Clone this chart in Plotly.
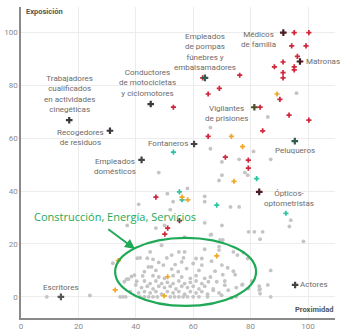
import plotly.graph_objects as go

# Occupations: proximity (x) vs exposure (y)
named_labels = ["Médicos<br>de familia", "Matronas",
                "Empleados<br>de pompas<br>fúnebres y<br>embalsamadores",
                "Conductores<br>de motocicletas<br>y ciclomotores",
                "Trabajadores<br>cualificados<br>en actividades<br>cinegéticas",
                "Recogedores<br>de residuos", "Empleados<br>domésticos",
                "Fontaneros", "Vigilantes<br>de prisiones", "Peluqueros",
                "Ópticos-<br>optometristas", "Actores", "Escritores"]
named_x = [91.4, 97.2, 64.1, 45.2, 16.8, 31.0, 42.0, 60.3, 81.3, 95.4, 83.0, 95.5, 13.9]
named_y = [99.9, 89.0, 82.8, 72.9, 66.8, 62.8, 51.8, 57.8, 71.7, 58.9, 39.7, 4.5, 0.0]
named_colors = ["#4a1c24", "#4a1c24", "#2f5d50", "#3a3a3a", "#3a3a3a", "#3a3a3a", "#444444",
                "#444444", "#4f4f2a", "#2f5d50", "#4a1c24", "#444444", "#555555"]

red_x = [95.2, 100.3, 94.3, 99.3, 96.3, 91.3, 88.3, 95.2, 95.2, 91.3, 91.3, 76.2, 63.3, 69.1,
         65.2, 53.1, 90.2, 83.3, 93.4, 100.3, 84.2, 65.2, 71.2, 79.2, 79.2, 47.0, 51.1, 50.1]
red_y = [99.9, 99.9, 94.9, 94.9, 90.9, 88.8, 87.0, 87.0, 85.8, 84.8, 82.8, 83.8, 82.8, 78.8,
         76.7, 71.7, 74.7, 71.7, 68.7, 66.8, 62.8, 60.7, 52.8, 51.7, 48.7, 37.7, 26.0, 23.7]
dark_red_x = [55.2]
dark_red_y = [28.8]

orange_x = [89.2, 73.3, 77.2, 74.2, 56.1, 58.1, 68.2, 33.9, 32.8, 51.1, 49.9]
orange_y = [76.7, 60.7, 56.8, 43.7, 37.7, 36.7, 15.5, 13.7, 2.6, 7.6, 0.4]

teal_x = [53.1, 82.1, 55.2, 56.1, 68.2, 92.3]
teal_y = [54.7, 44.7, 39.7, 36.7, 34.7, 31.6]

gray_pts = [
    (96, 77), (86, 68), (66, 64), (66, 56), (81, 55), (70, 51), (76, 52), (87, 52), (78, 47),
    (79, 46), (69, 44), (70, 46), (48, 47), (58, 41), (51, 39), (53, 36), (64, 38), (64, 36),
    (73, 34), (76, 34), (52, 33), (64, 28), (70, 27), (50, 27), (94, 29), (93.5, 26.6),
    (98.4, 21), (79.3, 24.6), (81.3, 24.6), (84.2, 24.6), (83.3, 21.8), (66.3, 23.6), (41, 35),
    (37, 27), (47, 26), (57, 22.6), (66, 23.4), (69.3, 21.5), (70.3, 21.5),
    (9, 0), (24, 0.5), (32, 12.7), (34.5, 0), (35.5, 0), (36.5, 0),
    (87, 10), (86, 4.5), (87, 0), (83, 4), (83, 2.6), (77, 4.5),
    (49, 19.5), (64, 18), (69, 19), (45, 17), (55, 17), (57, 17), (69, 17.7), (74, 17),
    (77.5, 16.7), (75.4, 15.8), (52.5, 15.8), (41.5, 14.7), (44, 14.6), (40.5, 14.6), (50.8, 14.7),
    (56.6, 14.7), (61, 14.5), (63, 14.5), (79, 14.5), (46, 14.2),
    (48, 13), (56, 13.2), (66.4, 13.5), (60, 12.6), (53.7, 12.2), (49.6, 12), (63, 12),
    (44.4, 11.3), (45.5, 11.3), (70, 12), (72, 11),
    (52.5, 10.5), (54.8, 9.5), (57.7, 10.7), (67.6, 9.7), (74, 9.7), (62, 10), (47, 10), (43, 9.5),
    (42.4, 7.9), (39.5, 8.2), (38.5, 7.7), (70.3, 8.4), (74.6, 8.4), (64, 7), (59, 7), (46, 8),
    (48, 7.5), (50, 7), (53, 8), (56, 7.5), (61, 8), (66, 7.5),
    (36, 5.7), (37.4, 6.7), (36.8, 6.7), (40.3, 5.9), (65.3, 5.7), (68.2, 5.7), (80.4, 5.9),
    (43, 6), (45, 5), (47, 6), (49, 5), (51, 5.5), (53, 5), (55, 6), (57, 5), (59, 5.5), (61, 6),
    (63, 5), (71, 6),
    (40, 4.5), (42, 3.5), (44, 4), (46, 3), (48, 4), (50, 3.5), (52, 4), (54, 3), (56, 4),
    (58, 3.5), (60, 4), (62, 3), (64, 4), (71, 4.4), (77.2, 4.7), (79.2, 3.1), (83.3, 2.9),
    (75, 3.5), (67, 3),
    (41, 1.5), (43, 2), (45, 1.5), (47, 2), (49, 1), (51, 2), (53, 1.5), (55, 2), (57, 1),
    (59, 2), (61, 1.5), (63, 2), (65, 1), (67, 2.5), (72.2, 2.5), (69, 1.5), (83.3, 1.2), (38, 2),
    (41.5, 0), (43, 0), (44.5, 0), (46, 0), (47.5, 0), (52, 0), (53.5, 0), (55, 0), (56.5, 0),
    (58, 0), (60, 0), (62, 0), (69.9, 0.6), (73.4, -0.4), (75, 0), (65, 0),
]
gray_x = [p[0] for p in gray_pts]
gray_y = [p[1] for p in gray_pts]

x_ticks = [0, 20, 40, 60, 80, 100]
y_ticks = [0, 20, 40, 60, 80, 100]

GRAY_TXT = "#6b6b6b"
GREEN = "#1fa956"

fig = go.Figure()


def dots(xs, ys, color, size, symbol="circle"):
    fig.add_trace(go.Scatter(x=xs, y=ys, mode="markers", hoverinfo="skip",
                             marker=dict(color=color, size=size, symbol=symbol,
                                         line=dict(width=0))))


dots(gray_x, gray_y, "#c4c4c4", 3.8)
dots(teal_x, teal_y, "#2ec4a2", 4.3, "cross")
dots(orange_x, orange_y, "#f2a62a", 4.3, "cross")
dots(red_x, red_y, "#d1263b", 4.3, "cross")
dots(dark_red_x, dark_red_y, "#8a2430", 4.3, "cross")
dots(named_x, named_y, named_colors, 5.5, "cross")

# label placement for each named occupation: (xanchor, yanchor, xshift, yshift)
label_place = {
    "Médicos<br>de familia": ("right", "top", -5, 5),
    "Matronas": ("left", "middle", 4, 0),
    "Empleados<br>de pompas<br>fúnebres y<br>embalsamadores": ("center", "bottom", 0, 4),
    "Conductores<br>de motocicletas<br>y ciclomotores": ("center", "bottom", -3, 4),
    "Trabajadores<br>cualificados<br>en actividades<br>cinegéticas": ("center", "bottom", 0, 4),
    "Recogedores<br>de residuos": ("right", "top", -4, 5),
    "Empleados<br>domésticos": ("right", "top", -4, 5),
    "Fontaneros": ("right", "middle", -4, 0),
    "Vigilantes<br>de prisiones": ("right", "top", -4, 5),
    "Peluqueros": ("center", "top", 0, -3),
    "Ópticos-<br>optometristas": ("left", "top", 3, 5),
    "Actores": ("left", "middle", 3, 0),
    "Escritores": ("center", "bottom", 0, 3),
}
for name, x, y in zip(named_labels, named_x, named_y):
    xa, ya, xs, ys = label_place[name]
    fig.add_annotation(x=x, y=y, text=name, showarrow=False, xanchor=xa, yanchor=ya,
                       xshift=xs, yshift=ys, align="center",
                       font=dict(family="Roboto", size=8, color=GRAY_TXT))

# highlighted cluster
fig.add_shape(type="circle", xref="x", yref="y", x0=32.8, x1=81.9, y0=-3.4, y1=22.3,
              line=dict(color=GREEN, width=2.2))
fig.add_annotation(x=39.7, y=18.1, ax=29.9, ay=26.0, axref="x", ayref="y", text="",
                   showarrow=True, arrowhead=2, arrowsize=1, arrowwidth=2, arrowcolor=GREEN)
fig.add_annotation(x=3.8, y=30.2, text="Construcción, Energía, Servicios", showarrow=False,
                   xanchor="left", yanchor="middle",
                   font=dict(family="Open Sans", size=11, color=GREEN))

# axis titles
fig.add_annotation(x=0, y=1, xref="paper", yref="paper", text="<b>Exposición</b>",
                   showarrow=False, xanchor="left", yanchor="top", xshift=3, yshift=2,
                   font=dict(family="Roboto", size=7.5, color="#555555"))
fig.add_annotation(x=1, y=0, xref="paper", yref="paper", text="<b>Proximidad</b>",
                   showarrow=False, xanchor="right", yanchor="bottom", yshift=2,
                   font=dict(family="Roboto", size=7.5, color="#555555"))

fig.update_layout(
    width=340, height=336, margin=dict(l=21, r=5, t=7, b=18),
    paper_bgcolor="white", plot_bgcolor="white", showlegend=False,
    xaxis=dict(range=[0, 109.4], tickvals=x_ticks, showgrid=True, gridcolor="#ececec",
               gridwidth=1, zeroline=False, showline=True, linecolor="#8a8a8a", linewidth=1.5,
               ticks="", tickfont=dict(family="Roboto", size=8, color="#8a8a8a")),
    yaxis=dict(range=[-8, 109.6], tickvals=y_ticks, showgrid=True, gridcolor="#ececec",
               gridwidth=1, zeroline=False, showline=True, linecolor="#8a8a8a", linewidth=1.5,
               ticks="", tickfont=dict(family="Roboto", size=8, color="#8a8a8a")),
)

fig.write_html("out.html")
